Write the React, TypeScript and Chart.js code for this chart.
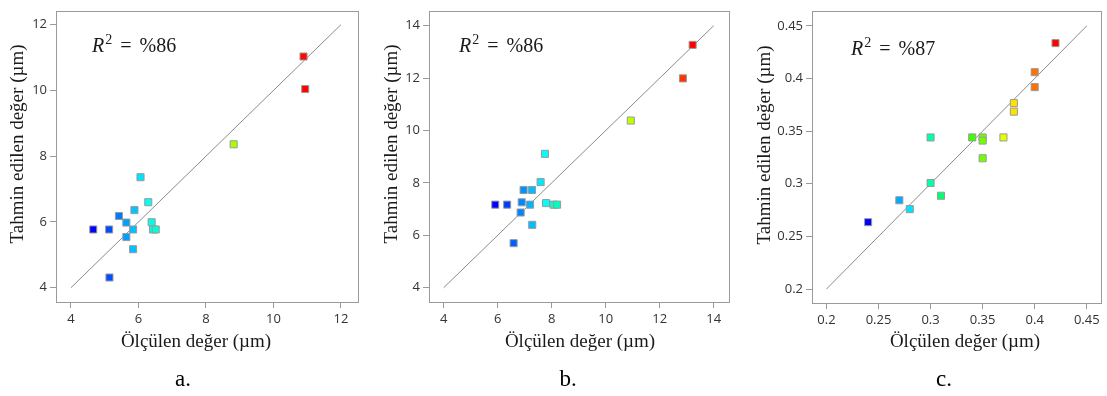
import React, { useEffect, useRef } from "react";
import { Chart, registerables } from "chart.js";

Chart.register(...registerables);

// ---------- data ----------
// Panel a
const A_MEASURED = [4.66, 5.13, 5.14, 5.42, 5.64, 5.64, 5.84, 5.84, 5.88, 6.06, 6.29, 6.39, 6.43, 6.51, 8.82, 10.89, 10.94];
const A_PREDICTED = [5.77, 5.77, 4.31, 6.18, 5.98, 5.54, 5.77, 5.17, 6.36, 7.36, 6.6, 5.99, 5.77, 5.77, 8.36, 11.03, 10.04];
const A_TICKS = [4, 6, 8, 10, 12];
const A_TICK_LABELS = ["4", "6", "8", "10", "12"];
const A_R2 = "%86";

// Panel b
const B_MEASURED = [5.91, 6.35, 6.59, 6.85, 6.89, 6.96, 7.2, 7.27, 7.28, 7.59, 7.75, 7.79, 8.07, 8.2, 10.93, 12.86, 13.22];
const B_PREDICTED = [7.17, 7.17, 5.7, 6.87, 7.26, 7.73, 7.17, 7.73, 6.4, 8.03, 9.11, 7.23, 7.17, 7.17, 10.38, 11.99, 13.27];
const B_TICKS = [4, 6, 8, 10, 12, 14];
const B_TICK_LABELS = ["4", "6", "8", "10", "12", "14"];
const B_R2 = "%86";

// Panel c
const C_MEASURED = [0.24, 0.27, 0.28, 0.3, 0.3, 0.31, 0.34, 0.35, 0.35, 0.35, 0.37, 0.38, 0.38, 0.4, 0.4, 0.42];
const C_PREDICTED = [0.2635, 0.2843, 0.2759, 0.344, 0.3007, 0.2886, 0.344, 0.344, 0.341, 0.3242, 0.344, 0.3766, 0.3685, 0.406, 0.3918, 0.4336];
const C_TICKS = [0.2, 0.25, 0.3, 0.35, 0.4, 0.45];
const C_TICK_LABELS = ["0.2", "0.25", "0.3", "0.35", "0.4", "0.45"];
const C_R2 = "%87";

const X_TITLE = "Ölçülen değer (µm)";
const Y_TITLE = "Tahmin edilen değer (µm)";
const CAPTIONS = ["a.", "b.", "c."];

// ---------- styling / layout ----------
type Panel = {
  measured: number[];
  predicted: number[];
  ticks: number[];
  tickLabels: string[];
  r2: string;
  caption: string;
  canvasLeft: number;
  canvasWidth: number;
  padTop: number;
  padRight: number;
  yAxisWidth: number;
  xAxisHeight: number;
  xMin: number;
  xMax: number;
  yMin: number;
  yMax: number;
  r2X: number;
  r2Y: number;
  yTitleX: number;
  yTitleY: number;
  xTitleX: number;
  xTitleY: number;
  captionX: number;
  captionY: number;
};

const PANELS: Panel[] = [
  {
    measured: A_MEASURED, predicted: A_PREDICTED, ticks: A_TICKS, tickLabels: A_TICK_LABELS, r2: A_R2, caption: CAPTIONS[0],
    canvasLeft: 0, canvasWidth: 370, padTop: 3, padRight: 12, yAxisWidth: 56, xAxisHeight: 94,
    xMin: 3.556, xMax: 12.504, yMin: 3.565, yMax: 12.42,
    r2X: 92, r2Y: 52, yTitleX: 18, yTitleY: 144, xTitleX: 196, xTitleY: 342, captionX: 183, captionY: 380,
  },
  {
    measured: B_MEASURED, predicted: B_PREDICTED, ticks: B_TICKS, tickLabels: B_TICK_LABELS, r2: B_R2, caption: CAPTIONS[1],
    canvasLeft: 370, canvasWidth: 370, padTop: 3, padRight: 11, yAxisWidth: 59, xAxisHeight: 94,
    xMin: 3.456, xMax: 14.567, yMin: 3.454, yMax: 14.57,
    r2X: 89, r2Y: 52, yTitleX: 22, yTitleY: 144, xTitleX: 210, xTitleY: 342, captionX: 198, captionY: 380,
  },
  {
    measured: C_MEASURED, predicted: C_PREDICTED, ticks: C_TICKS, tickLabels: C_TICK_LABELS, r2: C_R2, caption: CAPTIONS[2],
    canvasLeft: 740, canvasWidth: 367, padTop: 4, padRight: 4, yAxisWidth: 72, xAxisHeight: 93,
    xMin: 0.1861, xMax: 0.4637, yMin: 0.1867, yMax: 0.4643,
    r2X: 111, r2Y: 55, yTitleX: 25, yTitleY: 145, xTitleX: 225, xTitleY: 342, captionX: 204, captionY: 380,
  },
];

const HEIGHT = 396;
const SERIF = '"Liberation Serif", "DejaVu Serif", serif';
const SANS = '"Open Sans", "Noto Sans", sans-serif';

function rampColor(t: number): string {
  const u = Math.max(0, Math.min(1, t));
  let r = 0, g = 0, b = 0;
  if (u < 0.25) { r = 0; g = u / 0.25; b = 1; }
  else if (u < 0.5) { r = 0; g = 1; b = 1 - (u - 0.25) / 0.25; }
  else if (u < 0.75) { r = (u - 0.5) / 0.25; g = 1; b = 0; }
  else { r = 1; g = 1 - (u - 0.75) / 0.25; b = 0; }
  return `rgb(${Math.round(r * 255)},${Math.round(g * 255)},${Math.round(b * 255)})`;
}

function makeDecor(p: Panel) {
  return {
    id: "decor",
    beforeDatasetsDraw(chart: any) {
      const { ctx, chartArea: a } = chart;
      ctx.save();
      ctx.strokeStyle = "#9a9a9a";
      ctx.lineWidth = 1;
      ctx.strokeRect(Math.round(a.left) + 0.5, Math.round(a.top) + 0.5, Math.round(a.right - a.left), Math.round(a.bottom - a.top));
      ctx.restore();
    },
    afterDraw(chart: any) {
      const { ctx } = chart;
      ctx.save();
      ctx.fillStyle = "#1a1a1a";
      // R^2 annotation
      ctx.textBaseline = "alphabetic";
      ctx.textAlign = "left";
      let x = p.r2X;
      ctx.font = `italic 20px ${SERIF}`;
      ctx.fillText("R", x, p.r2Y);
      x += ctx.measureText("R").width + 1;
      ctx.font = `14px ${SERIF}`;
      ctx.fillText("2", x, p.r2Y - 8);
      x += ctx.measureText("2").width + 8;
      ctx.font = `20px ${SERIF}`;
      ctx.fillText("=", x, p.r2Y);
      x += ctx.measureText("=").width + 8;
      ctx.fillText(p.r2, x, p.r2Y);

      // y title
      ctx.save();
      ctx.translate(p.yTitleX, p.yTitleY);
      ctx.rotate(-Math.PI / 2);
      ctx.textAlign = "center";
      ctx.textBaseline = "middle";
      ctx.font = `19px ${SERIF}`;
      ctx.fillText(Y_TITLE, 0, 0);
      ctx.restore();

      // x title
      ctx.textAlign = "center";
      ctx.textBaseline = "middle";
      ctx.font = `19px ${SERIF}`;
      ctx.fillText(X_TITLE, p.xTitleX, p.xTitleY);

      // caption
      ctx.font = `23px ${SERIF}`;
      ctx.fillStyle = "#000";
      ctx.fillText(p.caption, p.captionX, p.captionY);
      ctx.restore();
    },
  };
}

function PanelChart({ p }: { p: Panel }) {
  const ref = useRef<HTMLCanvasElement | null>(null);
  useEffect(() => {
    if (!ref.current) return;
    const lo = Math.min(...p.measured);
    const hi = Math.max(...p.measured);
    const colors = p.measured.map((v) => rampColor((v - lo) / (hi - lo)));
    const points = p.measured.map((v, i) => ({ x: v, y: p.predicted[i] }));
    const d0 = p.ticks[0];
    const d1 = p.ticks[p.ticks.length - 1];
    const axisCommon = (labels: string[], ticks: number[]) => ({
      type: "linear" as const,
      afterBuildTicks: (s: any) => {
        s.ticks = ticks.map((v) => ({ value: v }));
      },
      grid: { drawOnChartArea: false, drawTicks: true, tickLength: 6, color: "#9a9a9a", lineWidth: 1 },
      border: { display: false },
      ticks: {
        autoSkip: false,
        maxRotation: 0,
        font: { family: SANS, size: 13 },
        color: "#333",
        callback: (_v: any, i: number) => labels[i],
      },
    });
    const chart = new Chart(ref.current, {
      type: "scatter",
      data: {
        datasets: [
          {
            data: points,
            pointStyle: "rect",
            pointRadius: 5,
            pointHoverRadius: 5,
            backgroundColor: colors,
            borderColor: "#9a9a9a",
            borderWidth: 1,
            order: 1,
          },
          {
            type: "line",
            data: [{ x: d0, y: d0 }, { x: d1, y: d1 }],
            borderColor: "#8a8a8a",
            borderWidth: 1,
            pointRadius: 0,
            fill: false,
            order: 2,
          } as any,
        ],
      },
      options: {
        animation: false,
        responsive: false,
        devicePixelRatio: 1,
        layout: { padding: { top: p.padTop, right: p.padRight, left: 0, bottom: 0 } },
        plugins: { legend: { display: false }, tooltip: { enabled: false } },
        events: [],
        scales: {
          x: {
            ...axisCommon(p.tickLabels, p.ticks),
            min: p.xMin,
            max: p.xMax,
            afterFit: (s: any) => {
              s.height = p.xAxisHeight;
            },
            ticks: { ...axisCommon(p.tickLabels, p.ticks).ticks, padding: 3 },
          },
          y: {
            ...axisCommon(p.tickLabels, p.ticks),
            min: p.yMin,
            max: p.yMax,
            afterFit: (s: any) => {
              s.width = p.yAxisWidth;
            },
            ticks: { ...axisCommon(p.tickLabels, p.ticks).ticks, padding: 3 },
          },
        },
      } as any,
      plugins: [makeDecor(p)],
    });
    return () => chart.destroy();
  }, [p]);
  return (
    <canvas
      ref={ref}
      width={p.canvasWidth}
      height={HEIGHT}
      style={{ position: "absolute", left: p.canvasLeft, top: 0, width: p.canvasWidth, height: HEIGHT }}
    />
  );
}

export default function App() {
  return (
    <div style={{ position: "absolute", left: 0, top: 0, width: 1107, height: HEIGHT, background: "#fff" }}>
      {PANELS.map((p, i) => (
        <PanelChart key={i} p={p} />
      ))}
    </div>
  );
}
